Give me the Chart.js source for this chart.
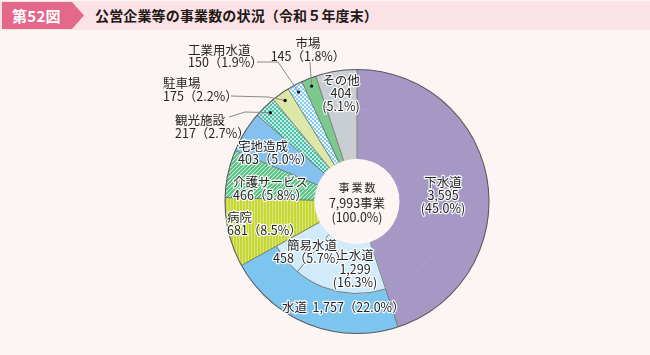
<!DOCTYPE html>
<html lang="ja">
<head>
<meta charset="utf-8">
<script src="https://cdn.jsdelivr.net/npm/chart.js@4.4.1/dist/chart.umd.min.js"></script>
<style>
  html,body{margin:0;padding:0;}
  body{width:650px;height:355px;background:#fdf4f4;position:relative;overflow:hidden;font-family:'Noto Sans CJK JP','Noto Sans',sans-serif;}
  #bar{position:absolute;left:0;top:1px;width:650px;height:29px;background:#fbe2e7;}
  #tag{position:absolute;left:2px;top:2px;width:82px;height:27px;background:#e4688a;clip-path:polygon(0 0,70px 0,82px 50%,70px 100%,0 100%);color:#fff;font-weight:bold;font-size:15px;line-height:27px;padding-left:10px;box-sizing:border-box;letter-spacing:0.3px;}
  #title{position:absolute;left:95px;top:2px;height:27px;line-height:27px;font-size:14px;font-weight:bold;color:#231815;letter-spacing:0.15px;}
  #c{position:absolute;left:0;top:0;}
</style>
</head>
<body>
<canvas id="c" width="650" height="355"></canvas>
<div id="bar"></div>
<div id="tag">第52図</div>
<div id="title">公営企業等の事業数の状況（令和５年度末）</div>
<script>
// ---- data ----
const categories = ['下水道','水道','病院','介護サービス','宅地造成','観光施設','駐車場','工業用水道','市場','その他'];
const counts     = [3595, 1757, 681, 466, 403, 217, 175, 150, 145, 404];
const shares     = [45.0, 22.0, 8.5, 5.8, 5.0, 2.7, 2.2, 1.9, 1.8, 5.1];
const waterSubCategories = ['上水道','簡易水道'];
const waterSubCounts     = [1299, 458];
const waterSubShares     = [16.3, 5.7];
const totalCount = 7993;
const totalShare = 100.0;

// ---- patterns ----
const canvas = document.getElementById('c');
const mainCtx = canvas.getContext('2d');
function makePattern(w, h, draw){
  const t = document.createElement('canvas'); t.width = w; t.height = h;
  const x = t.getContext('2d'); draw(x, w, h);
  return mainCtx.createPattern(t, 'repeat');
}
const pHospital = makePattern(3, 3, (x)=>{ x.fillStyle='#c4d734'; x.fillRect(0,0,3,3); x.fillStyle='#dbe67d'; x.fillRect(2,0,1,3); });
const pCare = makePattern(4, 4, (x)=>{ x.fillStyle='#eef9f1'; x.fillRect(0,0,4,4); x.strokeStyle='#52c07f'; x.lineWidth=2;
  x.beginPath(); x.moveTo(-1,5); x.lineTo(5,-1); x.moveTo(-1,1); x.lineTo(1,-1); x.moveTo(3,5); x.lineTo(5,3); x.stroke(); });
const pTourism = makePattern(4, 4, (x)=>{ x.fillStyle='#4bbfa8'; x.fillRect(0,0,4,4); x.fillStyle='#c2ebe2'; x.fillRect(0,0,2,2); x.fillRect(2,2,2,2); });
const pIndWater = makePattern(4, 4, (x)=>{ x.fillStyle='#86cdf3'; x.fillRect(0,0,4,4); x.fillStyle='#eaf7fe'; x.fillRect(0,0,2,2); x.fillRect(2,2,2,2); });

const outerColors = ['#a598c4','#7cc5ef',pHospital,pCare,'#85c1ee',pTourism,'#dde8a8',pIndWater,'#7dc88d','#c9ced2'];
const innerColors = ['#a598c4','#d2ebfa','#d2ebfa',pHospital,pCare,'#85c1ee',pTourism,'#dde8a8',pIndWater,'#7dc88d','#c9ced2'];
const innerCounts = [counts[0], ...waterSubCounts, ...counts.slice(2)];

const FONT = "'Noto Sans CJK JP','Noto Sans',sans-serif";
const fmt = n => n.toLocaleString('en-US');

// label layout (annotation positions only)
const labelLayout = [
  {lines:[categories[0], fmt(counts[0]), '('+shares[0].toFixed(1)+'%)'], x:443, ys:[182,195,208], align:'center', halo:true},
  {lines:[categories[9], fmt(counts[9]), '('+shares[9].toFixed(1)+'%)'], x:341, ys:[80,93,106], align:'center', halo:true},
  {lines:[categories[8], fmt(counts[8])+'（'+shares[8].toFixed(1)+'%）'], x:308, ys:[43,56], align:'center'},
  {lines:[categories[7], fmt(counts[7])+'（'+shares[7].toFixed(1)+'%）'], x:188, ys:[50,62], align:'left'},
  {lines:[categories[6], fmt(counts[6])+'（'+shares[6].toFixed(1)+'%）'], x:163, ys:[83,96], align:'left'},
  {lines:[categories[5], fmt(counts[5])+'（'+shares[5].toFixed(1)+'%）'], x:175, ys:[120,133], align:'left'},
  {lines:[categories[4], fmt(counts[4])+'（'+shares[4].toFixed(1)+'%）'], x:238, ys:[146,159], align:'left', halo:true},
  {lines:[categories[3], fmt(counts[3])+'（'+shares[3].toFixed(1)+'%）'], x:233, ys:[182,195], align:'left', halo:true},
  {lines:[categories[2], fmt(counts[2])+'（'+shares[2].toFixed(1)+'%）'], x:227, ys:[217,230], align:'left', halo:true},
  {lines:[waterSubCategories[1]], x:287, ys:[245], align:'left', halo:true},
  {lines:[fmt(waterSubCounts[1])+'（'+waterSubShares[1].toFixed(1)+'%）'], x:273, ys:[258], align:'left', halo:true},
  {lines:[waterSubCategories[0], fmt(waterSubCounts[0]), '('+waterSubShares[0].toFixed(1)+'%)'], x:355, ys:[255,269,282], align:'center', halo:true},
  {lines:[categories[1]+'  '+fmt(counts[1])+'（'+shares[1].toFixed(1)+'%）'], x:282, ys:[307], align:'left', halo:true},
  {lines:[fmt(totalCount)+'事業', '('+totalShare.toFixed(1)+'%)'], x:357, ys:[203,217], align:'center'}
];
// leader lines: [segment index, polyline points to dot]
const leaders = [
  {i:7, pts:[[257,62],[278,62]]},
  {i:8, pts:[[310,62]]},
  {i:6, pts:[[231,96],[268,97]]},
  {i:5, pts:[[229,117],[245,112]]}
];

const piePlugin = {
  id:'pieDecor',
  afterDatasetsDraw(chart){
    const ctx = chart.ctx;
    const outer = chart.getDatasetMeta(0).data;
    const inner = chart.getDatasetMeta(1).data;
    const cx = outer[0].x, cy = outer[0].y;
    const R = outer[0].outerRadius, rMid = outer[0].innerRadius, r0 = inner[0].innerRadius;
    ctx.save();
    // radial separators
    ctx.strokeStyle = '#707070'; ctx.lineWidth = 0.9;
    ctx.beginPath();
    outer.forEach(a=>{ const t=a.startAngle; ctx.moveTo(cx+Math.cos(t)*r0, cy+Math.sin(t)*r0); ctx.lineTo(cx+Math.cos(t)*R, cy+Math.sin(t)*R); });
    const tSub = inner[2].startAngle;
    ctx.moveTo(cx+Math.cos(tSub)*r0, cy+Math.sin(tSub)*r0); ctx.lineTo(cx+Math.cos(tSub)*rMid, cy+Math.sin(tSub)*rMid);
    ctx.stroke();
    // 水道 inner edge
    ctx.beginPath(); ctx.arc(cx, cy, rMid, outer[1].startAngle, outer[1].endAngle); ctx.stroke();
    // outer circle
    ctx.strokeStyle = '#5a5a5a'; ctx.lineWidth = 1.1;
    ctx.beginPath(); ctx.arc(cx, cy, R, 0, Math.PI*2); ctx.stroke();
    // leader lines
    leaders.forEach(L=>{
      const a = outer[L.i]; const m = (a.startAngle+a.endAngle)/2; const rd = R-8;
      const dx = cx+Math.cos(m)*rd, dy = cy+Math.sin(m)*rd;
      ctx.strokeStyle = '#8a8a8a'; ctx.lineWidth = 1;
      ctx.beginPath(); ctx.moveTo(L.pts[0][0], L.pts[0][1]);
      L.pts.slice(1).forEach(p=>ctx.lineTo(p[0],p[1]));
      ctx.lineTo(dx,dy); ctx.stroke();
      ctx.fillStyle = '#111'; ctx.beginPath(); ctx.arc(dx,dy,1.7,0,Math.PI*2); ctx.fill();
    });
    // labels
    ctx.textBaseline = 'middle';
    ctx.font = '12.5px ' + FONT;
    labelLayout.forEach(L=>{
      ctx.textAlign = L.align;
      L.lines.forEach((s,k)=>{
        if(L.halo){ ctx.strokeStyle='rgba(255,255,255,0.9)'; ctx.lineWidth=2.5; ctx.lineJoin='round'; ctx.strokeText(s, L.x, L.ys[k]); }
        ctx.fillStyle = '#262626'; ctx.fillText(s, L.x, L.ys[k]);
      });
    });
    // centre heading with spaced characters
    ctx.font = '11px ' + FONT; ctx.textAlign='center'; ctx.fillStyle='#262626';
    ['事','業','数'].forEach((ch,k)=>ctx.fillText(ch, 357 + (k-1)*13, 188));
    ctx.restore();
  }
};

new Chart(canvas, {
  type:'doughnut',
  data:{
    labels: categories,
    datasets:[
      {data: counts, backgroundColor: outerColors, borderWidth: 0, weight: 40},
      {data: innerCounts, backgroundColor: innerColors, borderColor: innerColors, borderWidth: 1, weight: 49}
    ]
  },
  options:{
    responsive:false, animation:false, events:[],
    radius: 132, cutout: '32.6%',
    layout:{padding:{left:64, top:48, right:0, bottom:0}},
    plugins:{legend:{display:false}, tooltip:{enabled:false}}
  },
  plugins:[piePlugin]
});
</script>
</body>
</html>
